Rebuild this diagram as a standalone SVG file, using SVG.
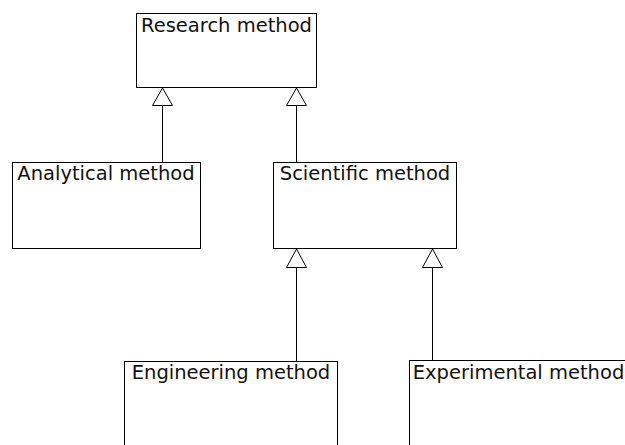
<svg xmlns="http://www.w3.org/2000/svg" width="625" height="445" viewBox="0 0 625 445">
  <style>
    .box { fill: #ffffff; stroke: #000000; stroke-width: 1; }
    .label { font-family: "DejaVu Sans", sans-serif; font-size: 19.5px; fill: #111111; text-anchor: middle; }
    .edge { fill: none; stroke: #000000; stroke-width: 1; }
    .head { fill: #ffffff; stroke: #000000; stroke-width: 1; }
  </style>
  <rect width="625" height="445" fill="#ffffff"/>

  <g id="connectors">
    <!-- Analytical method generalises Research method -->
    <line class="edge" x1="162.5" y1="162" x2="162.5" y2="105"/>
    <polygon class="head" points="162.5,88 152.5,105.5 172.5,105.5"/>
    <!-- Scientific method generalises Research method -->
    <line class="edge" x1="296.5" y1="162" x2="296.5" y2="105"/>
    <polygon class="head" points="296.5,88 286.5,105.5 306.5,105.5"/>
    <!-- Engineering method generalises Scientific method -->
    <line class="edge" x1="296.5" y1="361" x2="296.5" y2="267"/>
    <polygon class="head" points="296.5,249 286.5,267.5 306.5,267.5"/>
    <!-- Experimental method generalises Scientific method -->
    <line class="edge" x1="432.5" y1="361" x2="432.5" y2="267"/>
    <polygon class="head" points="432.5,249 422.5,267.5 442.5,267.5"/>
  </g>

  <g id="research-method">
    <rect class="box" x="136.5" y="13.5" width="180" height="74"/>
    <text class="label" x="226.5" y="32">Research method</text>
  </g>

  <g id="analytical-method">
    <rect class="box" x="12.5" y="162.5" width="188" height="86"/>
    <text class="label" x="106" y="180">Analytical method</text>
  </g>

  <g id="scientific-method">
    <rect class="box" x="273.5" y="162.5" width="183" height="86"/>
    <text class="label" x="365" y="180">Scientific method</text>
  </g>

  <g id="engineering-method">
    <rect class="box" x="124.5" y="361.5" width="213" height="100"/>
    <text class="label" x="231" y="379">Engineering method</text>
  </g>

  <g id="experimental-method">
    <rect class="box" x="409.5" y="360.5" width="218" height="100"/>
    <text class="label" x="518.5" y="379">Experimental method</text>
  </g>
</svg>
